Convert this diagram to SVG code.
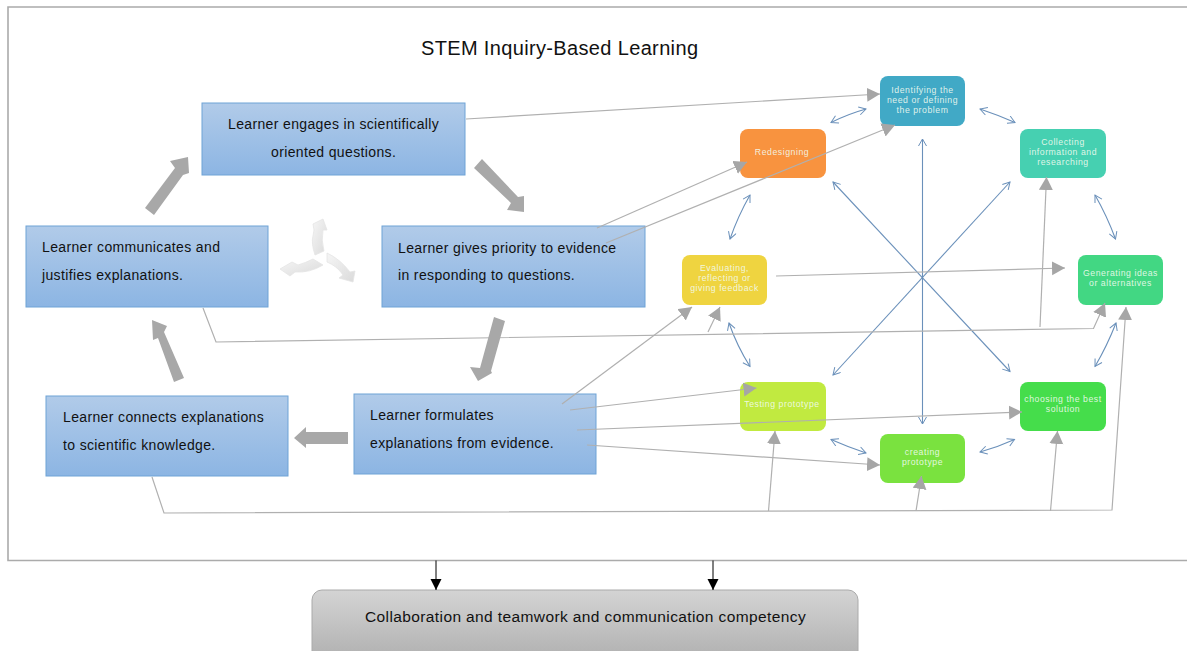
<svg xmlns="http://www.w3.org/2000/svg" width="1187" height="651" viewBox="0 0 1187 651">
<style>
.t{font-family:"Liberation Sans",Arial,sans-serif;fill:#111}
.b{font-size:14px;letter-spacing:.36px}
.n{font-family:"Liberation Sans",Arial,sans-serif;font-size:8.7px;letter-spacing:.55px;fill:#f2fbf0;fill-opacity:.9;text-anchor:middle}
.box{fill:url(#bg);stroke:#6fa3d6;stroke-width:1}
.g{fill:none;stroke:#b0b0b0;stroke-width:1.2}
.ga{marker-end:url(#gh)}
.bl{fill:none;stroke:#6a90ba;stroke-width:1.1;marker-start:url(#bh);marker-end:url(#bh)}
.big{fill:#a8a8a8}
.ic{fill:url(#ig);stroke:#e4e4e4;stroke-width:.8;stroke-linejoin:round}
</style>
<defs>
<linearGradient id="bg" x1="0" y1="0" x2="0" y2="1"><stop offset="0" stop-color="#b1cbe9"/><stop offset="1" stop-color="#8cb5e3"/></linearGradient>
<linearGradient id="gr" x1="0" y1="0" x2="0" y2="1"><stop offset="0" stop-color="#d4d4d4"/><stop offset="1" stop-color="#b4b4b4"/></linearGradient>
<linearGradient id="ig" x1="0" y1="0" x2="1" y2="1"><stop offset="0" stop-color="#f6f6f6"/><stop offset="1" stop-color="#dadada"/></linearGradient>
<marker id="gh" markerUnits="userSpaceOnUse" markerWidth="15" markerHeight="15" refX="13" refY="7" orient="auto"><path d="M0,0L13,7L0,14z" fill="#a6a6a6"/></marker>
<marker id="bh" markerUnits="userSpaceOnUse" markerWidth="10" markerHeight="10" refX="8" refY="4.5" orient="auto-start-reverse"><path d="M1,.5L8,4.5L1,8.5" fill="none" stroke="#6a90ba" stroke-width="1"/></marker>
<marker id="kh" markerUnits="userSpaceOnUse" markerWidth="12" markerHeight="14" refX="11" refY="5.5" orient="auto"><path d="M0,0L11,5.5L0,11z" fill="#000"/></marker>
</defs>
<rect width="1187" height="651" fill="#fff"/>
<path d="M1188,7H8V560.5H1188" fill="none" stroke="#ababab" stroke-width="1.6"/>
<text class="t" x="421" y="54.500" font-size="20" textLength="277">STEM Inquiry-Based Learning</text>

<g id="node-engage"><rect class="box" x="202" y="103" width="263" height="72"/>
<text class="t b" x="228" y="129">Learner engages in scientifically</text><text class="t b" x="271" y="157">oriented questions.</text></g>
<g id="node-communicates"><rect class="box" x="26" y="226" width="242" height="81"/>
<text class="t b" x="42" y="252">Learner communicates and</text><text class="t b" x="42" y="280">justifies explanations.</text></g>
<g id="node-priority"><rect class="box" x="382" y="226" width="263" height="81"/>
<text class="t b" x="398" y="253">Learner gives priority to evidence</text><text class="t b" x="398" y="280">in responding to questions.</text></g>
<g id="node-connects"><rect class="box" x="46" y="396" width="242" height="80"/>
<text class="t b" x="63" y="422">Learner connects explanations</text><text class="t b" x="63" y="450">to scientific knowledge.</text></g>
<g id="node-formulates"><rect class="box" x="354" y="394" width="242" height="80"/>
<text class="t b" x="370" y="420">Learner formulates</text><text class="t b" x="370" y="448">explanations from evidence.</text></g>

<g id="node-identifying"><rect x="880" y="76" width="85" height="50" rx="8" fill="#41a9c6"/>
<text class="n" x="922.500" y="92.500">Identifying the</text><text class="n" x="922.500" y="102.500">need or defining</text><text class="n" x="922.500" y="112.500">the problem</text></g>
<g id="node-redesigning"><rect x="740" y="129" width="86" height="49" rx="8" fill="#f8933f"/>
<text class="n" x="782" y="155">Redesigning</text></g>
<g id="node-collecting"><rect x="1020" y="129" width="86" height="49" rx="8" fill="#46d0b1"/>
<text class="n" x="1063" y="145">Collecting</text><text class="n" x="1063" y="155">information and</text><text class="n" x="1063" y="165">researching</text></g>
<g id="node-generating"><rect x="1078" y="255" width="85" height="50" rx="8" fill="#42d783"/>
<text class="n" x="1120.500" y="276">Generating ideas</text><text class="n" x="1120.500" y="286">or alternatives</text></g>
<g id="node-evaluating"><rect x="682" y="255" width="85" height="50" rx="8" fill="#efd440"/>
<text class="n" x="724.500" y="271">Evaluating,</text><text class="n" x="724.500" y="281">reflecting or</text><text class="n" x="724.500" y="291">giving feedback</text></g>
<g id="node-testing"><rect x="740" y="382" width="86" height="49" rx="8" fill="#c1ea40"/>
<text class="n" x="782" y="407">Testing prototype</text></g>
<g id="node-creating"><rect x="880" y="434" width="85" height="49" rx="8" fill="#7ae23f"/>
<text class="n" x="922.500" y="455">creating</text><text class="n" x="922.500" y="465">prototype</text></g>
<g id="node-choosing"><rect x="1020" y="382" width="86" height="49" rx="8" fill="#45dd4b"/>
<text class="n" x="1063" y="402">choosing the best</text><text class="n" x="1063" y="412">solution</text></g>
<g id="node-competency"><path d="M322,590H848a10,10 0 0 1 10,10V652H312V600a10,10 0 0 1 10-10z" fill="url(#gr)" stroke="#aaaaaa"/>
<text class="t" x="365" y="621.500" font-size="15.5" letter-spacing=".39">Collaboration and teamwork and communication competency</text></g>

<g id="connectors">
<path class="bl" d="M922.500,139V424"/>
<path class="bl" d="M833,182L1010,371.500"/>
<path class="bl" d="M1010,182L833,375"/>
<path class="bl" d="M831,122.500Q848,114 866,109"/>
<path class="bl" d="M980,109Q998,115 1015,122.500"/>
<path class="bl" d="M1095,195Q1107,216 1115.500,239"/>
<path class="bl" d="M1116,323Q1107,346 1095,366.500"/>
<path class="bl" d="M1014.500,439.500Q998,447 980,452"/>
<path class="bl" d="M866,453Q848,447 831,439.500"/>
<path class="bl" d="M750,366.500Q737,346 729,323"/>
<path class="bl" d="M730,239Q738,216 750,195"/>
<path class="g ga" d="M466,119L880,94"/>
<path class="g ga" d="M597,228L747,162"/>
<path class="g ga" d="M606,243L895,125"/>
<path class="g ga" d="M776,276L1065,268"/>
<path class="g ga" d="M203,308L216,342L1093.500,328.500L1105,303"/>
<path class="g ga" d="M1040,327L1046.500,177"/>
<path class="g ga" d="M708,332L720,307"/>
<path class="g ga" d="M562,404L692,307"/>
<path class="g ga" d="M570,410L756.500,388"/>
<path class="g ga" d="M577,430L1022,412"/>
<path class="g ga" d="M587,445L880,465"/>
<path class="g ga" d="M152,477L164,513L1112,510L1126,307"/>
<path class="g ga" d="M768.500,511L775,431"/>
<path class="g ga" d="M916,511L921.500,476"/>
<path class="g ga" d="M1050.500,511L1057.500,431"/>
<path d="M436,560.500V590" fill="none" stroke="#000" marker-end="url(#kh)"/>
<path d="M713,560.500V590" fill="none" stroke="#000" marker-end="url(#kh)"/>
<polygon class="big" points="145,208 154,215 183,175 189,173 188,157 170,161 175,168"/>
<polygon class="big" points="474,168 482,159 518,197 524,196 524,212 507,210 511,203"/>
<polygon class="big" points="494,317 505,321 491,371 492,373 478,381 470,367 480,368"/>
<polygon class="big" points="348,432 348,444 306,444 306,448 294,438 306,427 306,432"/>
<polygon class="big" points="184,378 174,382 158,338 153,340 152,320 167,326 164,332"/>
</g>
<g id="cycle-icon">
<path class="ic" d="M315,255Q311,243 313,236Q315,230 313,224L323,219L327,230L323,230Q321,240 324,251z"/>
<path class="ic" d="M323,265L313,259Q305,263 298,265L292,262L280,269L290,276L295,272Q310,273 323,265z"/>
<path class="ic" d="M327,253Q340,259 350,272L355,271L353,282L339,278L343,275Q337,266 327,262z"/>
</g>
</svg>
